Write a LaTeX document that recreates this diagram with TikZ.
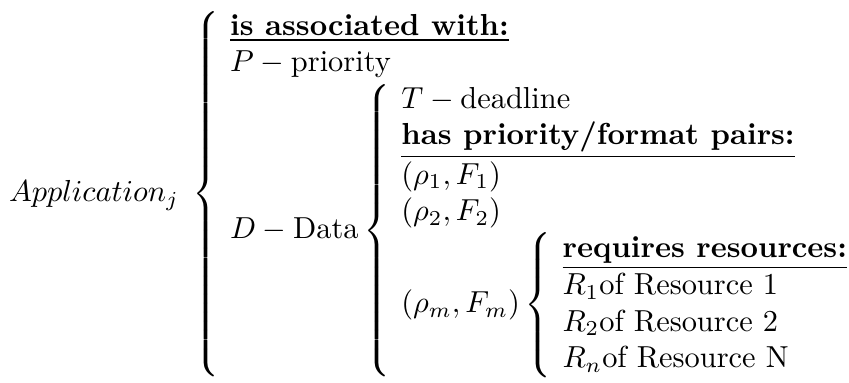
\documentclass[tikz,border=0pt]{standalone}
\usepackage{tikz}
\newsavebox\allbox
\newcommand{\ul}[1]{\underline{\mbox{\bfseries #1}}}
\newcommand{\colgap}{\hspace{3.5pt}}
\begin{document}
\nulldelimiterspace=0pt
\sbox\allbox{$Application_j\;\left\{\begin{array}{@{\colgap}l@{}}
\ul{is associated with:}\\
P-\mbox{priority}\\
D-\mbox{Data}\left\{\begin{array}{@{\colgap}l@{}}
T-\mbox{deadline}\\
\ul{has priority/format pairs:}\\
(\rho_1,F_1)\\
(\rho_2,F_2)\\
(\rho_m,F_m)\left\{\begin{array}{@{\colgap}l@{}}
\ul{requires resources:}\\
R_1\mbox{of Resource 1}\\
R_2\mbox{of Resource 2}\\
R_n\mbox{of Resource N}
\end{array}\right.
\end{array}\right.
\end{array}\right.$}%
\pgfmathsetmacro\u{\the\wd\allbox/838}%
\begin{tikzpicture}
\useasboundingbox (-9*\u pt,-373*\u pt) rectangle (840*\u pt,10*\u pt);
\node[inner sep=0pt,outer sep=0pt,anchor=north west] (all) at (0,0) {\usebox\allbox};
\end{tikzpicture}
\end{document}
